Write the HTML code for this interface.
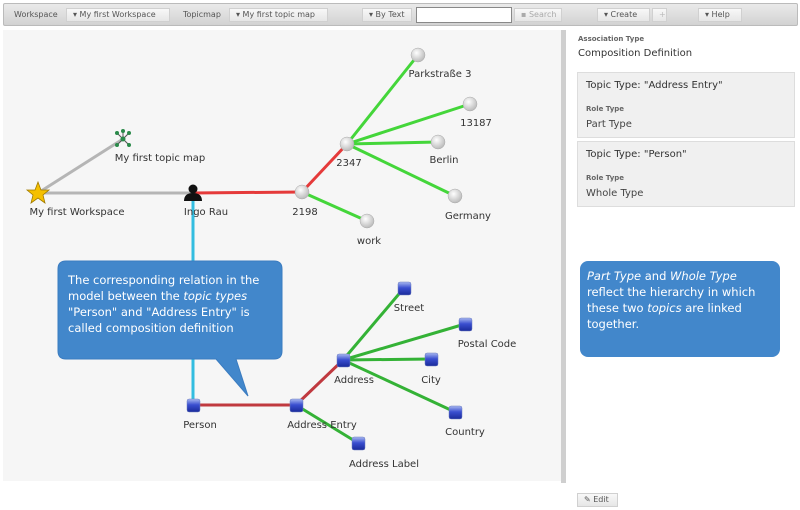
<!DOCTYPE html>
<html><head><meta charset="utf-8"><style>
*{margin:0;padding:0;box-sizing:border-box}
body{width:800px;height:510px;background:#fff;position:relative;overflow:hidden;font-family:"DejaVu Sans","Liberation Sans",sans-serif}
.tb{position:absolute;left:3px;top:3px;width:795px;height:23px;background:linear-gradient(#eaeaea,#d2d2d2);border:1px solid #bbb;border-radius:2px}
.b{position:absolute;top:8px;height:14px;background:linear-gradient(#f8f8f8,#e6e6e6);border:1px solid #d0d0d0;font-size:8px;color:#555;line-height:12px;padding-left:6px}
.l{position:absolute;top:10px;font-size:8px;color:#555}
.rp{position:absolute;font-size:10px;color:#333}
.box{position:absolute;left:577px;width:218px;background:#f0f0f0;border:1px solid #ddd}
.small{font-size:7px;font-weight:bold;color:#666}
</style></head><body>
<div class="tb"></div>
<div class="l" style="left:14px">Workspace</div>
<div class="b" style="left:66px;width:104px">▾ My first Workspace</div>
<div class="l" style="left:183px">Topicmap</div>
<div class="b" style="left:229px;width:99px">▾ My first topic map</div>
<div class="b" style="left:362px;width:50px">▾ By Text</div>
<div style="position:absolute;left:416px;top:7px;width:96px;height:16px;background:#fff;border:1px solid #888"></div>
<div class="b" style="left:514px;width:48px;color:#aaa">▪ Search</div>
<div class="b" style="left:597px;width:53px">▾ Create</div>
<div class="b" style="left:652px;width:15px;color:#bbb">+</div>
<div class="b" style="left:698px;width:44px">▾ Help</div>

<svg style="position:absolute;left:0;top:0" width="800" height="510">
<defs>
<radialGradient id="g" cx="40%" cy="35%" r="65%"><stop offset="0" stop-color="#fff"/><stop offset="1" stop-color="#bbb"/></radialGradient>
<linearGradient id="bl" x1="0" y1="0" x2="0" y2="1"><stop offset="0" stop-color="#a8b8f0"/><stop offset="0.45" stop-color="#3a4fd0"/><stop offset="1" stop-color="#1a2a9a"/></linearGradient>
<filter id="gl" x="-20%" y="-200%" width="140%" height="500%"><feGaussianBlur stdDeviation="3"/></filter>
</defs>
<rect x="3" y="30" width="558" height="451" fill="#f6f6f6"/>
<rect x="561" y="30" width="5" height="453" fill="#cfcfcf"/>
<g stroke-width="3" fill="none">
<line x1="38" y1="193" x2="123" y2="139" stroke="#b5b5b5"/>
<line x1="38" y1="193" x2="193" y2="193" stroke="#b5b5b5"/>
<line x1="193" y1="193" x2="302" y2="192" stroke="#e53a3a"/>
<line x1="302" y1="192" x2="347" y2="144" stroke="#e53a3a"/>
<line x1="193" y1="193" x2="193" y2="405" stroke="#33bde0"/>
<g stroke="#44d63a">
<line x1="347" y1="144" x2="418" y2="55"/><line x1="347" y1="144" x2="470" y2="104"/>
<line x1="347" y1="144" x2="438" y2="142"/><line x1="347" y1="144" x2="455" y2="196"/>
<line x1="302" y1="192" x2="367" y2="221"/></g>
<line x1="193" y1="405" x2="296" y2="405" stroke="#c8c8ff" stroke-width="12" filter="url(#gl)"/>
<line x1="193" y1="405" x2="296" y2="405" stroke="#c0393f"/>
<line x1="296" y1="405" x2="343" y2="360" stroke="#c0393f"/>
<g stroke="#34b236">
<line x1="343" y1="360" x2="404" y2="288"/><line x1="343" y1="360" x2="465" y2="324"/>
<line x1="343" y1="360" x2="431" y2="359"/><line x1="343" y1="360" x2="455" y2="412"/>
<line x1="296" y1="405" x2="358" y2="443"/></g>
</g>
<g fill="url(#g)" stroke="#aaa" stroke-width="0.5">
<circle cx="302" cy="192" r="7"/><circle cx="347" cy="144" r="7"/><circle cx="418" cy="55" r="7"/>
<circle cx="470" cy="104" r="7"/><circle cx="438" cy="142" r="7"/><circle cx="455" cy="196" r="7"/><circle cx="367" cy="221" r="7"/>
</g>
<g fill="url(#bl)" stroke="#7080c0" stroke-width="0.5">
<rect x="187" y="399" width="13" height="13" rx="2"/><rect x="290" y="399" width="13" height="13" rx="2"/>
<rect x="337" y="354" width="13" height="13" rx="2"/><rect x="398" y="282" width="13" height="13" rx="2"/>
<rect x="459" y="318" width="13" height="13" rx="2"/><rect x="425" y="353" width="13" height="13" rx="2"/>
<rect x="449" y="406" width="13" height="13" rx="2"/><rect x="352" y="437" width="13" height="13" rx="2"/>
</g>
<polygon points="38,182 41,190 49,190 43,195 45,203 38,198 31,203 33,195 27,190 35,190" fill="#f5c000" stroke="#a07a00" stroke-width="0.8"/>
<g stroke="#555" stroke-width="1"><line x1="123" y1="139" x2="117" y2="133"/><line x1="123" y1="139" x2="129" y2="133"/><line x1="123" y1="139" x2="117" y2="145"/><line x1="123" y1="139" x2="129" y2="145"/><line x1="123" y1="139" x2="123" y2="131"/></g>
<g fill="#2a8a4a"><circle cx="123" cy="139" r="2.5"/><circle cx="117" cy="133" r="2"/><circle cx="129" cy="133" r="2"/><circle cx="117" cy="145" r="2"/><circle cx="129" cy="145" r="2"/><circle cx="123" cy="131" r="2"/></g>
<circle cx="193" cy="189" r="4.5" fill="#111"/><path d="M184,201 Q184,193 193,193 Q202,193 202,201 Z" fill="#111"/>
<g font-family="DejaVu Sans, sans-serif" font-size="10" fill="#333" text-anchor="middle">
<text x="77" y="215">My first Workspace</text><text x="160" y="161">My first topic map</text>
<text x="206" y="215">Ingo Rau</text><text x="305" y="215">2198</text><text x="349" y="166">2347</text>
<text x="440" y="77">Parkstraße 3</text><text x="476" y="126">13187</text><text x="444" y="163">Berlin</text>
<text x="468" y="219">Germany</text><text x="369" y="244">work</text>
<text x="200" y="428">Person</text><text x="322" y="428">Address Entry</text><text x="354" y="383">Address</text>
<text x="409" y="311">Street</text><text x="487" y="347">Postal Code</text><text x="431" y="383">City</text>
<text x="465" y="435">Country</text><text x="384" y="467">Address Label</text>
</g>
<path d="M66,261 H274 Q282,261 282,269 V351 Q282,359 274,359 H236 L248,396 L216,359 H66 Q58,359 58,351 V269 Q58,261 66,261 Z" fill="#4287cb" stroke="#3b7cc0"/>
<g font-family="DejaVu Sans, sans-serif" font-size="11.5" fill="#fff">
<text x="68" y="284">The corresponding relation in the</text>
<text x="68" y="300">model between the <tspan font-style="italic">topic types</tspan></text>
<text x="68" y="316">"Person" and "Address Entry" is</text>
<text x="68" y="332">called composition definition</text>
</g>
<rect x="580" y="261" width="200" height="96" rx="8" fill="#4287cb"/>
<g font-family="DejaVu Sans, sans-serif" font-size="11.5" fill="#fff">
<text x="587" y="280"><tspan font-style="italic">Part Type</tspan> and <tspan font-style="italic">Whole Type</tspan></text>
<text x="587" y="296">reflect the hierarchy in which</text>
<text x="587" y="312">these two <tspan font-style="italic">topics</tspan> are linked</text>
<text x="587" y="328">together.</text>
</g>
</svg>
<div class="rp small" style="left:578px;top:35px">Association Type</div>
<div class="rp" style="left:578px;top:48px">Composition Definition</div>
<div class="box" style="top:72px;height:66px"><div class="rp" style="left:8px;top:7px">Topic Type: "Address Entry"</div><div class="rp small" style="left:8px;top:32px">Role Type</div><div class="rp" style="left:8px;top:46px;color:#444">Part Type</div></div>
<div class="box" style="top:141px;height:66px"><div class="rp" style="left:8px;top:7px">Topic Type: "Person"</div><div class="rp small" style="left:8px;top:32px">Role Type</div><div class="rp" style="left:8px;top:46px;color:#444">Whole Type</div></div>
<div class="b" style="left:577px;top:493px;width:41px;height:14px">✎ Edit</div>
</body></html>
